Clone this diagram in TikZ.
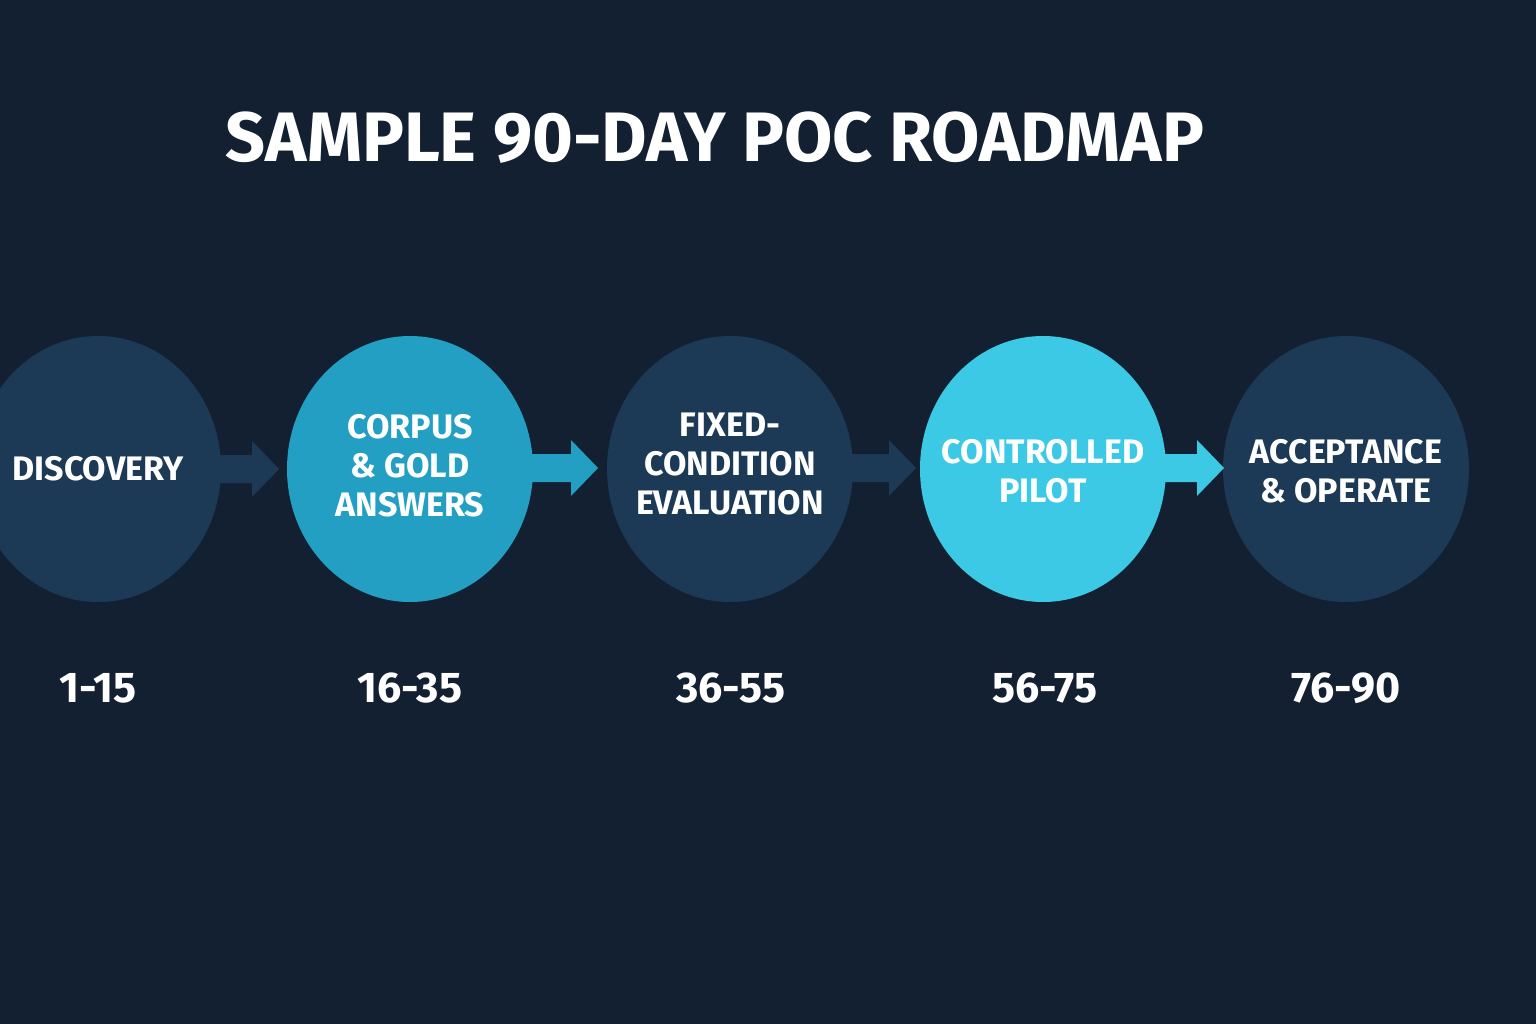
\documentclass[tikz,border=0pt]{standalone}
\usepackage{fontspec}
\setmainfont{Fira Sans}
\usetikzlibrary{shapes.geometric,calc}
\definecolor{bg}{HTML}{132032}
\definecolor{darkc}{HTML}{1C3A55}
\definecolor{midc}{HTML}{229FC2}
\definecolor{lightc}{HTML}{3CC9E6}
\tikzset{
  phase/.style={ellipse, minimum width=246pt, minimum height=266pt, inner sep=0pt},
  phaselbl/.style={align=center, text=white, inner sep=0pt, font=\fontsize{34}{39}\selectfont\bfseries},
  daylabel/.style={text=white, font=\fontsize{43}{43}\selectfont\bfseries},
}
\newcommand\phasearrow[3]{% colour, from node, tip coordinate
  \fill[#1] ($(#2.east |- #3)+(-6,-14)$) -- ($(#3)+(-27,-14)$) -- ($(#3)+(-27,-28)$) -- (#3)
    -- ($(#3)+(-27,28)$) -- ($(#3)+(-27,14)$) -- ($(#2.east |- #3)+(-6,14)$) -- cycle;}
\begin{document}
\begin{tikzpicture}[x=1pt,y=-1pt]
\fill[bg] (0,0) rectangle (1536,1024);
\useasboundingbox (0,0) rectangle (1536,1024);
\clip (0,0) rectangle (1536,1024);
\node[text=white, font=\fontsize{70}{70}\selectfont\bfseries] (title) at (715,138) {SAMPLE 90-DAY POC ROADMAP};
% circles
\node[phase, fill=darkc, label={[phaselbl]center:DISCOVERY}] (p1) at (98,469) {};
\node[phase, fill=midc, label={[phaselbl, yshift=3pt]center:CORPUS\\\& GOLD\\ANSWERS}] (p2) at (410,469) {};
\node[phase, fill=darkc, label={[phaselbl, yshift=5pt]center:FIXED-\\CONDITION\\EVALUATION}] (p3) at (730,469) {};
\node[phase, fill=lightc, label={[phaselbl, yshift=-2pt]center:CONTROLLED\\PILOT}] (p4) at (1043,469) {};
\node[phase, fill=darkc, label={[phaselbl, yshift=-2pt]center:ACCEPTANCE\\\& OPERATE}] (p5) at (1346,469) {};
% arrows
\coordinate (t1) at (279,469);
\coordinate (t2) at (598,468);
\coordinate (t3) at (916,468);
\coordinate (t4) at (1224,468);
\phasearrow{darkc}{p1}{t1}
\phasearrow{midc}{p2}{t2}
\phasearrow{darkc}{p3}{t3}
\phasearrow{lightc}{p4}{t4}
% day labels
\node[daylabel] (d1) at (98,688) {1-15};
\node[daylabel] (d2) at (410,688) {16-35};
\node[daylabel] (d3) at (731,688) {36-55};
\node[daylabel] (d4) at (1045,688) {56-75};
\node[daylabel] (d5) at (1346,688) {76-90};
\end{tikzpicture}
\end{document}
